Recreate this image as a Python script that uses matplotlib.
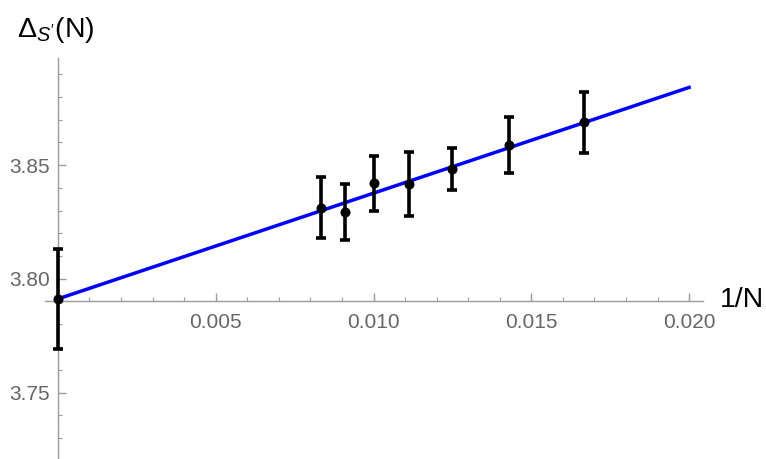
import matplotlib
matplotlib.use("Agg")
import matplotlib.pyplot as plt
import numpy as np
from matplotlib.ticker import MultipleLocator

plt.rcParams['font.family'] = ['Liberation Sans', 'DejaVu Sans']
plt.rcParams['mathtext.fontset'] = 'custom'
plt.rcParams['mathtext.rm'] = 'Liberation Sans'
plt.rcParams['mathtext.it'] = 'Liberation Sans:italic'

# Lattice sizes and measured gaps
N_values = [120, 110, 100, 90, 80, 70, 60]
gap = [3.8313, 3.8295, 3.8420, 3.8416, 3.8485, 3.8588, 3.8688]
gap_err = [0.0133, 0.0122, 0.0122, 0.0140, 0.0092, 0.0123, 0.0133]

# Extrapolated value at 1/N = 0
extrap_value = 3.7912
extrap_err = 0.0220

# Linear fit in 1/N
fit_intercept = 3.7912
fit_slope = 4.65
fit_range = [0.0, 0.020]

inv_N = [1.0 / n for n in N_values]

W, H = 766, 459
fig = plt.figure(figsize=(W / 100, H / 100), dpi=100)
ax = fig.add_axes([45 / W, 0, 657.7 / W, 400.7 / H])
ax.set_xlim(-0.00041, 0.02043)
ax.set_ylim(3.7208, 3.897)

axis_col = '#9a9a9a'
for side in ('top', 'right'):
    ax.spines[side].set_visible(False)
ax.spines['left'].set_position(('data', 0.0))
ax.spines['bottom'].set_position(('data', 3.7901))
for side in ('left', 'bottom'):
    ax.spines[side].set_color(axis_col)
    ax.spines[side].set_linewidth(1.0)

xf = np.linspace(fit_range[0], fit_range[1], 2)
ax.plot(xf, fit_intercept + fit_slope * xf, color='#0000ff', lw=2.5, zorder=2)

ekw = dict(fmt='o', color='black', ms=6.2, elinewidth=2.6, capsize=3.6,
           capthick=2.6, zorder=3, clip_on=False)
ax.errorbar(inv_N, gap, yerr=gap_err, **ekw)
ax.errorbar([0.0], [extrap_value], yerr=[extrap_err], **ekw)

ax.xaxis.set_major_locator(MultipleLocator(0.005))
ax.xaxis.set_minor_locator(MultipleLocator(0.001))
ax.yaxis.set_major_locator(MultipleLocator(0.05))
ax.yaxis.set_minor_locator(MultipleLocator(0.01))
ax.set_xticks([0.005, 0.010, 0.015, 0.020])
ax.set_xticklabels(['0.005', '0.010', '0.015', '0.020'])
ax.set_yticks([3.75, 3.80, 3.85])
ax.set_yticklabels(['3.75', '3.80', '3.85'])

ax.tick_params(which='both', direction='in', color=axis_col, labelcolor='#666666',
               labelsize=15)
ax.tick_params(which='major', length=5.5, width=1.0)
ax.tick_params(which='minor', length=3.2, width=0.8)
ax.tick_params(axis='x', which='major', pad=8)
ax.tick_params(axis='y', which='major', pad=6)

fig.text(720 / W, 1 - 300 / H, '1/N', fontsize=20.5, ha='left', va='center')
fig.text(17 / W, 1 - 30 / H, r"$\Delta_{S'}\mathrm{(N)}$", fontsize=20.5,
         ha='left', va='center')

fig.savefig('out.png', dpi=100)
